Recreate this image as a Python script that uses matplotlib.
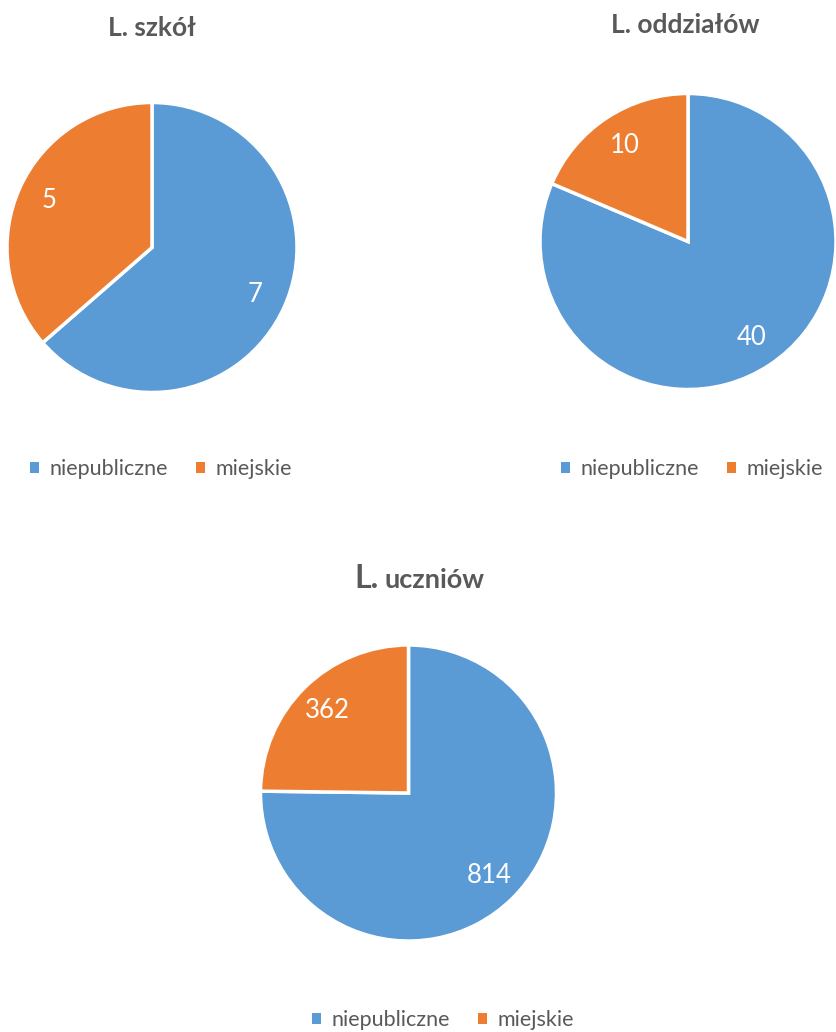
import matplotlib.pyplot as plt
from matplotlib.patches import Patch

plt.rcParams['font.family'] = ['Lato', 'DejaVu Sans']

categories = ["niepubliczne", "miejskie"]

# values printed on the wedges
szkoly = [7, 5]
oddzialy = [40, 10]
uczniowie = [814, 362]

# wedge shares as drawn in the original (they do not follow the labels)
szkoly_share = [0.636, 0.364]
oddzialy_share = [0.814, 0.186]
uczniowie_share = [0.752, 0.248]

colors = ["#5B9BD5", "#ED7D31"]
text_gray = "#595959"

W, H = 837, 1032
fig = plt.figure(figsize=(W / 100, H / 100), dpi=100)


def pie_axes(cx, cy, r):
    # cx, cy, r in pixels, y from top
    return fig.add_axes([(cx - r) / W, 1 - (cy + r) / H, 2 * r / W, 2 * r / H])


def draw_pie(ax, shares, labels):
    wedges, _, autotexts = ax.pie(
        shares, colors=colors, startangle=90, counterclock=False,
        autopct="%d", pctdistance=0.78, radius=1,
        wedgeprops=dict(edgecolor="white", linewidth=2.5),
        textprops=dict(color="white", fontsize=18.5))
    for t, v in zip(autotexts, labels):
        t.set_text(str(v))
    ax.set_xlim(-1.0, 1.0)
    ax.set_ylim(-1.0, 1.0)
    ax.set_aspect("equal")
    ax.axis("off")


handles = [Patch(facecolor=c, edgecolor="none") for c in colors]


def legend(x, y):
    fig.legend(handles, categories, loc="center", bbox_to_anchor=(x / W, 1 - y / H),
               ncol=2, frameon=False, fontsize=15.5, handlelength=0.42, handleheight=0.42,
               handletextpad=0.5, columnspacing=1.3, labelcolor=text_gray,
               borderpad=0, borderaxespad=0)


ax1 = pie_axes(152, 247.5, 145)
draw_pie(ax1, szkoly_share, szkoly)
fig.text(152 / W, 1 - 28 / H, "L. szkół", ha="center", va="center",
         fontsize=19, fontweight="bold", color=text_gray)
legend(161, 469)

ax2 = pie_axes(688, 241.5, 148)
draw_pie(ax2, oddzialy_share, oddzialy)
fig.text(685 / W, 1 - 25 / H, "L. oddziałów", ha="center", va="center",
         fontsize=19, fontweight="bold", color=text_gray)
legend(692, 469)

ax3 = pie_axes(408.5, 793, 148)
draw_pie(ax3, uczniowie_share, uczniowie)
fig.text(379 / W, 1 - 588 / H, "L.", ha="right", va="baseline",
         fontsize=23, fontweight="bold", color=text_gray)
fig.text(385 / W, 1 - 588 / H, "uczniów", ha="left", va="baseline",
         fontsize=19.5, fontweight="bold", color=text_gray)
legend(443, 1020)

fig.savefig("out.png", dpi=100)
